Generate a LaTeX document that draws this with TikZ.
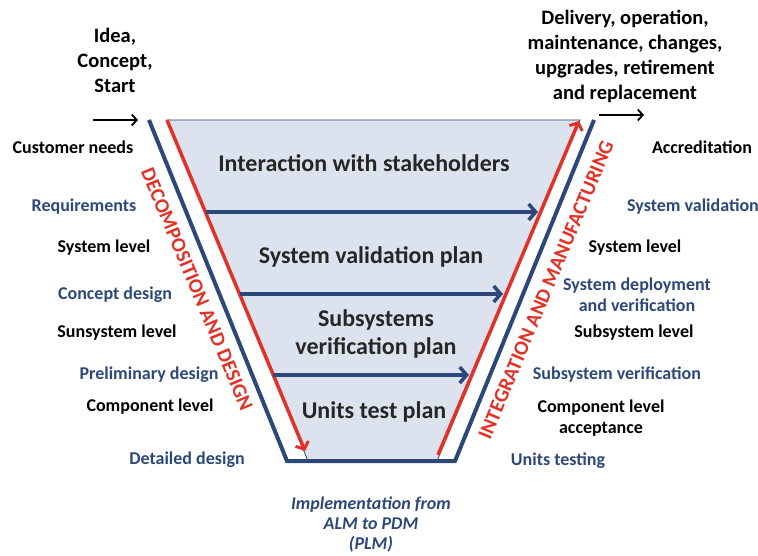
\documentclass[tikz,border=0pt]{standalone}
\usepackage{fontspec}
\setmainfont{Carlito}
\usetikzlibrary{arrows.meta,positioning}

\definecolor{vblue}{RGB}{44,72,122}
\definecolor{vred}{RGB}{226,50,40}
\definecolor{vfill}{RGB}{220,227,238}

\begin{document}
\begin{tikzpicture}[x=1pt,y=-1pt,
	lbl/.style={font=\fontsize{18}{21}\selectfont\bfseries, inner sep=0pt},
	lblblue/.style={lbl, text=vblue},
	plan/.style={font=\fontsize{24}{28}\selectfont\bfseries, align=center, inner sep=0pt, text=black!85},
	phase/.style={font=\fontsize{20.5}{25}\selectfont\bfseries, align=center, inner sep=0pt},
	side/.style={font=\fontsize{20.5}{24}\selectfont\bfseries, text=vred, inner sep=0pt},
	flow/.style={line width=4pt, vblue, -{Straight Barb[length=7pt,width=16pt,line width=3.5pt]}},
	redflow/.style={line width=3.5pt, vred, -{Straight Barb[length=6pt,width=14pt,line width=3pt]}},
	start/.style={line width=1.8pt, -{Straight Barb[length=5pt,width=11pt]}}]
	\useasboundingbox (0,0) rectangle (758,556);

	% corners of the funnel
	\coordinate (tl) at (167,120);
	\coordinate (tr) at (580,120);
	\coordinate (br) at (437,461);
	\coordinate (bl) at (308,461);
	\coordinate (ol) at (149,120);
	\coordinate (obl) at (287,461);
	\coordinate (obr) at (455,461);
	\coordinate (or) at (594,120);

	\fill [vfill] (tl) -- (tr) -- (br) -- (bl) -- cycle;
	\draw [vblue, line width=0.8pt] (bl) -- (tl) -- (tr) -- (br);
	\draw [vblue, line width=4pt, line join=miter] (ol) -- (obl) -- (obr) -- (or);

	% red process arrows
	\coordinate (ldown) at (305,451);
	\coordinate (rstart) at (438,455);
	\coordinate (rup) at (579,121);
	\draw [redflow] (tl) to (ldown);
	\draw [redflow] (rstart) to (rup);

	% horizontal arrows
	\coordinate (a1) at (206,212);
	\coordinate (b1) at (538,212);
	\coordinate (a2) at (240,294);
	\coordinate (b2) at (503,294);
	\coordinate (a3) at (273,375);
	\coordinate (b3) at (469,375);
	\draw [flow] (a1) to (b1);
	\draw [flow] (a2) to (b2);
	\draw [flow] (a3) to (b3);

	\node [plan] (stake) at (364,163) {Interaction with stakeholders};
	\node [plan] (valplan) at (371,257) {System validation plan};
	\node [plan] (verplan) at (376,334) {Subsystems\\verification plan};
	\node [plan] (testplan) at (374,412) {Units test plan};

	% start and end
	\node [phase] (idea) at (115,60) {Idea,\\Concept,\\Start};
	\node [phase] (delivery) at (625,56) {Delivery, operation,\\maintenance, changes,\\upgrades, retirement\\and replacement};
	\coordinate (in1) at (93,120);
	\coordinate (in2) at (138,120);
	\coordinate (out1) at (599,115);
	\coordinate (out2) at (644,115);
	\draw [start] (in1) to (in2);
	\draw [start] (out1) to (out2);

	\node [side, rotate=-67.3] (decomp) at (197,289) {DECOMPOSITION AND DESIGN};
	\node [side, rotate=67.3] (integr) at (546,290) {INTEGRATION AND MANUFACTURING};

	% left labels
	\node [lbl] (needs) at (73,147) {Customer needs};
	\node [lblblue] (req) at (84,207) {Requirements};
	\node [lbl] (syslev) at (104,248) {System level};
	\node [lblblue] (concept) at (115,295) {Concept design};
	\node [lbl] (sublev) at (117,333) {Sunsystem level};
	\node [lblblue] (prelim) at (149,375) {Preliminary design};
	\node [lbl] (complev) at (150,407) {Component level};
	\node [lblblue] (detail) at (187,460) {Detailed design};

	% right labels
	\node [lbl] (accred) at (702,147) {Accreditation};
	\node [lblblue] (sysval) at (693,207) {System validation};
	\node [lbl] (syslev2) at (635,248) {System level};
	\node [lblblue, align=center] (deploy) at (637,295) {System deployment\\and verification};
	\node [lbl] (sublev2) at (634,333) {Subsystem level};
	\node [lblblue] (subver) at (617,375) {Subsystem verification};
	\node [lbl, align=center] (accept) at (601,418) {Component level\\acceptance};
	\node [lblblue] (units) at (558,461) {Units testing};

	\node [lblblue, align=center, font=\fontsize{18}{20}\selectfont\bfseries\itshape] (impl) at (371,525) {Implementation from\\ALM to PDM\\(PLM)};
\end{tikzpicture}
\end{document}
